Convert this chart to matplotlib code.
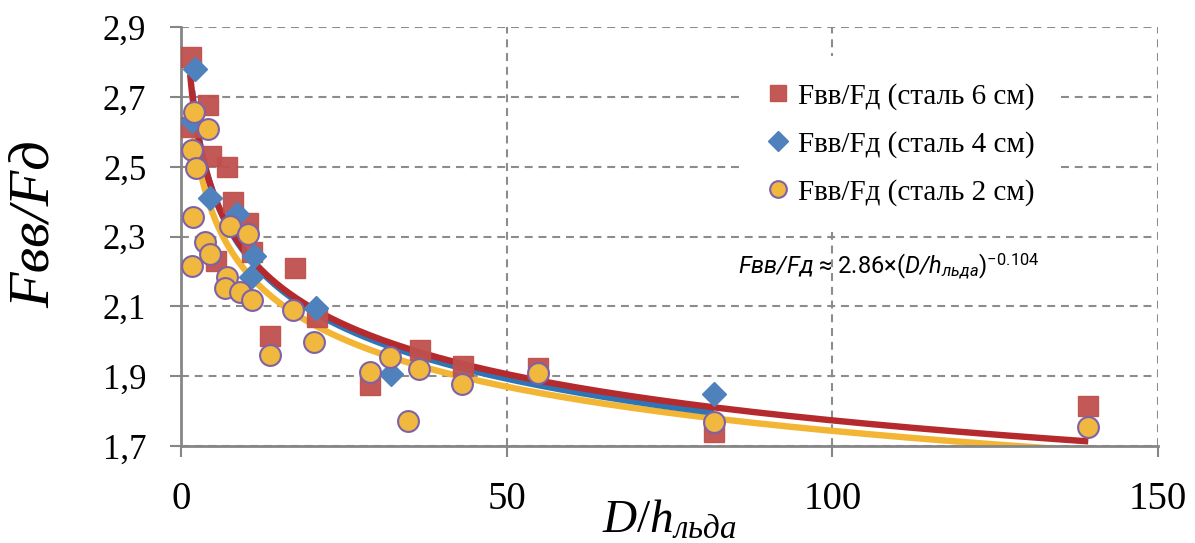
import numpy as np
import matplotlib.pyplot as plt

plt.rcParams['font.family'] = ['Liberation Serif', 'DejaVu Sans']
plt.rcParams['mathtext.fontset'] = 'custom'
plt.rcParams['mathtext.rm'] = 'Liberation Serif'
plt.rcParams['mathtext.it'] = 'Liberation Serif:italic'
plt.rcParams['mathtext.sf'] = 'Roboto'
plt.rcParams['mathtext.cal'] = 'Roboto:italic'

# data
x6 = [1.5, 1.4, 4.1, 4.6, 7.1, 8.0, 10.3, 10.9, 5.3, 17.5, 13.7, 20.9, 29.0, 36.7, 43.3, 54.8, 81.8, 139.3]
y6 = [2.814, 2.614, 2.677, 2.53, 2.50, 2.40, 2.34, 2.255, 2.23, 2.21, 2.015, 2.07, 1.875, 1.975, 1.93, 1.923, 1.74, 1.814]

x4 = [2.2, 1.7, 4.5, 8.6, 11.2, 10.7, 20.7, 32.3, 81.8]
y4 = [2.78, 2.63, 2.41, 2.365, 2.245, 2.185, 2.095, 1.907, 1.849]

x2 = [2.0, 4.1, 1.7, 2.3, 1.8, 3.7, 4.5, 1.7, 7.5, 10.3, 7.1, 6.8, 9.1, 10.9, 13.7, 17.2,
      20.4, 29.0, 32.1, 36.5, 34.8, 43.1, 54.8, 81.8, 139.3]
y2 = [2.656, 2.608, 2.548, 2.496, 2.356, 2.284, 2.25, 2.215, 2.33, 2.307, 2.184, 2.152, 2.141,
      2.118, 1.96, 2.09, 1.998, 1.911, 1.955, 1.921, 1.773, 1.878, 1.909, 1.768, 1.754]

# power trend lines y = a * x^b
fit6 = (2.863, -0.104)
fit4 = (2.877, -0.107)
fit2 = (2.776, -0.101)

labels = ['Fвв/Fд (сталь 6 см)', 'Fвв/Fд (сталь 4 см)', 'Fвв/Fд (сталь 2 см)']
yticks = [1.7, 1.9, 2.1, 2.3, 2.5, 2.7, 2.9]
ytick_labels = ['1,7', '1,9', '2,1', '2,3', '2,5', '2,7', '2,9']
xticks = [0, 50, 100, 150]

fig = plt.figure(figsize=(11.95, 5.43), dpi=100)
ax = fig.add_axes([0.1515, 0.1786, 0.8175, 0.7714])

def trend(xs, fit, color, z):
    xx = np.geomspace(min(xs), max(xs), 300)
    ax.plot(xx, fit[0] * xx ** fit[1], color=color, lw=4.6, zorder=z, solid_capstyle='butt')

trend(x2, fit2, '#F2B634', 2.1)
trend(x4, fit4, '#2E75B6', 2.2)
trend(x6, fit6, '#B52A2C', 2.3)

ax.plot(x6, y6, 's', ms=14.4, color='#C0504D', mec='#C0504D', alpha=0.95, label=labels[0], zorder=3)
ax.plot(x4, y4, 'D', ms=12.5, color='#4F81BD', mec='#4F81BD', label=labels[1], zorder=3.1)
ax.plot(x2, y2, 'o', ms=15, color='#F0B83E', mec='#7E62A8', mew=1.5, label=labels[2], zorder=3.2)

ax.set_xlim(0, 150)
ax.set_ylim(1.7, 2.9)
ax.set_xticks(xticks)
ax.set_yticks(yticks)
ax.set_yticklabels(ytick_labels)

for s in ['top', 'right']:
    ax.spines[s].set_visible(False)
for s in ['left', 'bottom']:
    ax.spines[s].set_color('#868686')
    ax.spines[s].set_linewidth(2)

ax.grid(True, color='#8C8C8C', linestyle=(0, (3.8, 2.8)), linewidth=1.5, zorder=0)
ax.set_axisbelow(True)
ax.tick_params(direction='out', length=8, width=1.5, color='#868686')
ax.tick_params(axis='y', labelsize=25, pad=17)
ax.tick_params(axis='x', labelsize=28, pad=17)

ax.set_ylabel('Fвв/Fд', fontsize=42, fontstyle='italic')
ax.yaxis.set_label_coords(-0.123, 0.53)
ax.set_xlabel(r'$\mathit{D/h}_{\mathit{льда}}$', fontsize=34)
ax.xaxis.set_label_coords(0.5, -0.128)

ax.text(0.57, 0.43,
        r'$\mathcal{Fвв/Fд}\mathsf{\ ≈\ 2.86×(}\mathcal{D/h}_{\mathcal{льда}}\mathsf{)}^{\mathsf{-0.104}}$',
        transform=ax.transAxes, fontsize=17, va='center', ha='left')

leg = ax.legend(loc='upper left', bbox_to_anchor=(0.572, 0.93), fontsize=21, markerscale=0.8,
                handlelength=0.8, handletextpad=0.3, labelspacing=0.72, borderpad=0.9,
                borderaxespad=0, frameon=True, fancybox=False)
leg.get_frame().set_edgecolor('none')
leg.get_frame().set_facecolor('white')
leg.get_frame().set_alpha(1)

fig.savefig('out.png', dpi=100)
